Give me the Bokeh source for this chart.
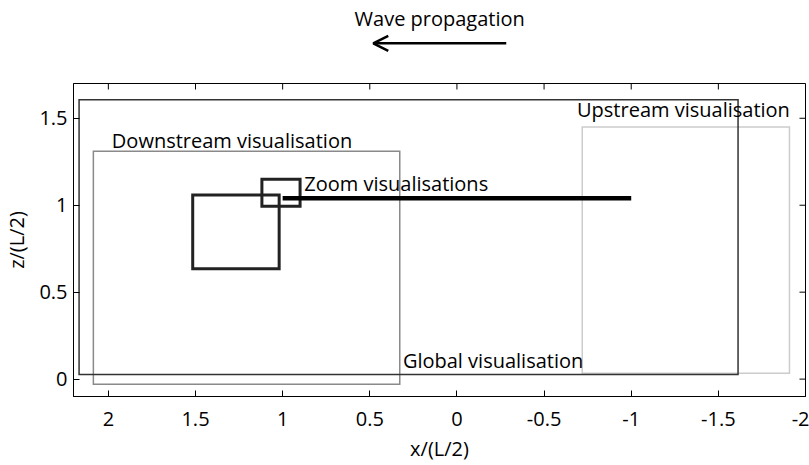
from bokeh.plotting import figure
from bokeh.models import Range1d, FixedTicker, Arrow, OpenHead, ColumnDataSource
from bokeh.layouts import column
from bokeh.core.properties import value
from bokeh.embed import file_html
from bokeh.resources import INLINE

# ---- data (x/(L/2), z/(L/2)) ----
global_box = dict(left=2.168, right=-1.613, bottom=0.027, top=1.606)
downstream_box = dict(left=2.086, right=0.328, bottom=-0.030, top=1.311)
upstream_box = dict(left=-0.719, right=-1.908, bottom=0.034, top=1.450)
zoom_big_box = dict(left=1.516, right=1.020, bottom=0.634, top=1.059)
zoom_small_box = dict(left=1.119, right=0.900, bottom=0.994, top=1.149)

line_x = [1.0, -1.0]
line_z = [1.04, 1.04]

label_text = ["Downstream visualisation", "Upstream visualisation",
              "Zoom visualisations", "Global visualisation"]
label_x = [1.98, -0.689, 0.876, 0.31]
label_z = [1.370, 1.548, 1.125, 0.109]

wave_text = ["Wave propagation"]
wave_x = [0.099]
wave_z = [2.074]
arrow_x = [-0.283, 0.48]
arrow_z = 1.93

x_ticks = [2, 1.5, 1, 0.5, 0, -0.5, -1, -1.5, -2]
x_tick_labels = ["2", "1.5", "1", "0.5", "0", "-0.5", "-1", "-1.5", "-2"]
y_ticks = [0, 0.5, 1, 1.5]
y_tick_labels = ["0", "0.5", "1", "1.5"]

FONT = "Open Sans"
FS = "20px"
XMIN, XMAX = 2.2, -2.0
YMIN, YMAX = -0.1, 1.7

x_range = Range1d(XMIN, XMAX)

# ---- top strip: wave propagation arrow ----
top = figure(frame_width=732, frame_height=78, x_range=x_range,
             y_range=Range1d(1.728, 2.176), output_backend="svg",
             toolbar_location=None, x_axis_type=None, y_axis_type=None,
             min_border_left=65, min_border_right=4, min_border_top=0,
             min_border_bottom=0)
top.outline_line_color = None
top.xgrid.visible = False
top.ygrid.visible = False
top.text(x=wave_x, y=wave_z, text=wave_text, text_font=value(FONT),
         text_font_size=FS, text_align="center", text_baseline="alphabetic",
         text_color="black")
top.add_layout(Arrow(end=OpenHead(size=15, line_width=2.5, line_color="black"),
                     x_start=arrow_x[0], y_start=arrow_z, x_end=arrow_x[1], y_end=arrow_z,
                     line_width=2.5, line_color="black"))

# ---- main plot ----
p = figure(frame_width=732, frame_height=313, x_range=x_range,
           y_range=Range1d(YMIN, YMAX),
           output_backend="svg", toolbar_location=None,
           min_border_left=65, min_border_top=5, min_border_right=4,
           min_border_bottom=64,
           x_axis_label="x/(L/2)", y_axis_label="z/(L/2)")
p.xgrid.visible = False
p.ygrid.visible = False
p.outline_line_color = "black"
p.outline_line_width = 1


def style_axis(ax, ticks, labels):
    ax.ticker = FixedTicker(ticks=ticks)
    ax.major_label_overrides = {t: l for t, l in zip(ticks, labels)}
    ax.major_tick_in = 6
    ax.major_tick_out = 0
    ax.minor_tick_in = 0
    ax.minor_tick_out = 0
    ax.axis_line_color = "black"
    ax.major_tick_line_color = "black"
    ax.major_label_text_font = FONT
    ax.major_label_text_color = "black"
    ax.major_label_text_font_size = FS
    ax.axis_label_text_font = FONT
    ax.axis_label_text_font_style = "normal"
    ax.axis_label_text_color = "black"
    ax.axis_label_text_font_size = FS


style_axis(p.xaxis[0], x_ticks, x_tick_labels)
p.xaxis[0].major_label_standoff = 15
p.xaxis[0].axis_label_standoff = 6
style_axis(p.yaxis[0], y_ticks, y_tick_labels)
p.yaxis[0].major_label_standoff = 6
p.yaxis[0].axis_label_standoff = 6

# inward ticks on the top and right frame edges
tick_dx = 6 / 174.2
tick_dy = 6 / 174.2
p.segment(x0=x_ticks, x1=x_ticks, y0=[YMAX] * len(x_ticks),
          y1=[YMAX - tick_dy] * len(x_ticks), line_color="black", line_width=1)
p.segment(x0=[XMAX] * len(y_ticks), x1=[XMAX + tick_dx] * len(y_ticks),
          y0=y_ticks, y1=y_ticks, line_color="black", line_width=1)

# boxes
p.quad(**downstream_box, fill_color=None, line_color="#8a8a8a", line_width=1.5, line_join="miter")
p.quad(**upstream_box, fill_color=None, line_color="#cccccc", line_width=1.5, line_join="miter")
p.quad(**global_box, fill_color=None, line_color="#333333", line_width=1.5, line_join="miter")
p.quad(**zoom_big_box, fill_color=None, line_color="#222222", line_width=3, line_join="miter")
p.quad(**zoom_small_box, fill_color=None, line_color="#222222", line_width=3, line_join="miter")

p.line(line_x, line_z, line_color="black", line_width=4.5)

src = ColumnDataSource(dict(x=label_x, y=label_z, text=label_text))
p.text(x="x", y="y", text="text", source=src, text_font=value(FONT),
       text_font_size=FS, text_align="left", text_baseline="alphabetic",
       text_color="black")

layout = column(top, p, spacing=0)
open("out.html", "w").write(file_html(layout, INLINE))
